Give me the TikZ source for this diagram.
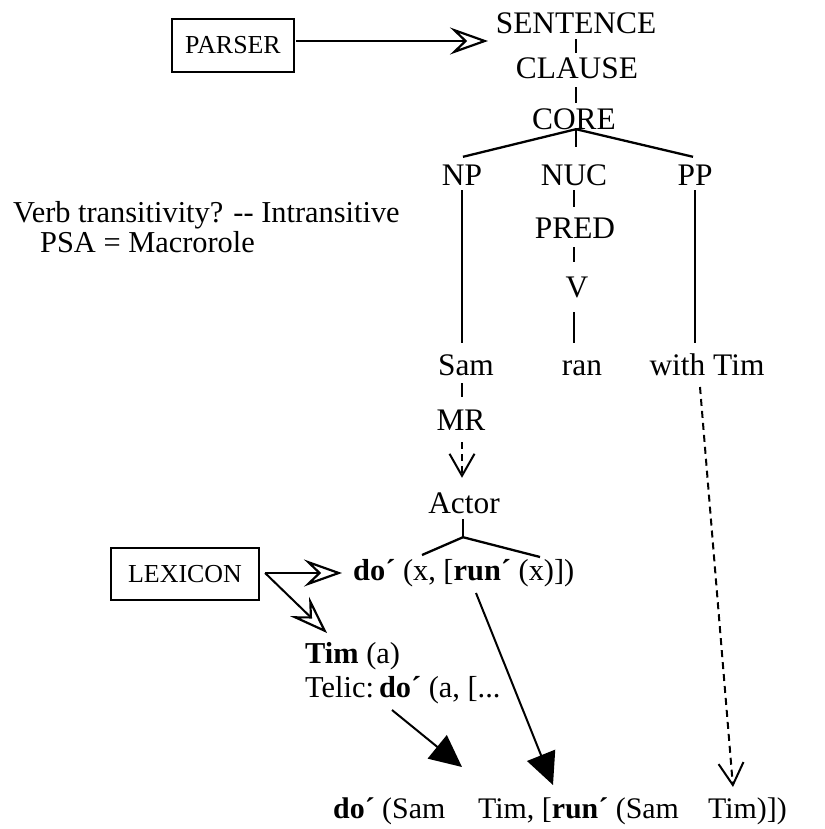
\documentclass[tikz,border=0pt]{standalone}
\usepackage{fontspec}
\setmainfont{Liberation Serif}
\usetikzlibrary{arrows.meta,calc}
\begin{document}
\begin{tikzpicture}[x=1bp,y=-1bp,
  lbl/.style={font=\fontsize{31.5}{35}\selectfont, inner sep=0pt, text height=20bp, text depth=0bp, anchor=base},
  txt/.style={font=\fontsize{30.5}{34}\selectfont, inner sep=0pt, anchor=base west},
  bottomtxt/.style={font=\fontsize{30}{34}\selectfont, inner sep=0pt, anchor=base west},
  boxed/.style={draw, line width=2.2bp, inner sep=0pt, font=\fontsize{26}{29}\selectfont},
  branch/.style={line width=2.3bp},
  bigopen/.style={line width=2bp, -{Stealth[open, length=38bp, width=27bp, inset=14bp, line width=2.2bp]}},
  dashv/.style={line width=2bp, dash pattern=on 7bp off 5bp, -{Straight Barb[length=22bp, width=25bp, line width=2bp]}},
  solidtri/.style={line width=2bp, -{Triangle[length=32bp, width=30bp]}},
]
\useasboundingbox (0,0) rectangle (825,829);

% tree labels
\node[lbl] (sent)   at (576,33)  {SENTENCE};
\node[lbl] (clause) at (577,78)  {CLAUSE};
\node[lbl] (core)   at (574,129) {CORE};
\node[lbl] (np)     at (462,185) {NP};
\node[lbl] (nuc)    at (574,185) {NUC};
\node[lbl] (pp)     at (695,185) {PP};
\node[lbl] (pred)   at (575,238) {PRED};
\node[lbl] (v)      at (577,297) {V};
\node[lbl] (sam)    at (466,375) {Sam};
\node[lbl] (ran)    at (582,375) {ran};
\node[lbl] (wtim)   at (707,375) {with Tim};
\node[lbl] (mr)     at (461,430) {MR};
\node[lbl] (actor)  at (464,513) {Actor};

% free text
\node[txt] (verb)  at (13,222)  {Verb transitivity? -\kern0pt- Intransitive};
\node[txt] (psa)   at (40,252)  {PSA = Macrorole};
\node[txt] (dox)   at (353,580) {\textbf{do´} (x, [\textbf{run´} (x)])};
\node[txt] (tim)   at (305,663) {\textbf{Tim} (a)};
\node[txt] (telic) at (305,697) {Telic:\,\textbf{do´} (a, [...};
\node[bottomtxt] (b1) at (333,818) {\textbf{do´} (Sam};
\node[bottomtxt] (b2) at (478,818) {Tim, [\textbf{run´} (Sam};
\node[bottomtxt] (b3) at (708,818) {Tim)])};

% boxes
\node[boxed, minimum width=122bp, minimum height=53bp] (parser)  at (233,45.5) {PARSER};
\node[boxed, minimum width=148bp, minimum height=52bp] (lexicon) at (185,574)  {LEXICON};

% tree connectors
\draw[branch, shorten <=6bp, shorten >=5bp] (sent.south) -- (sent.south |- clause.north);
\draw[branch, shorten <=9bp, shorten >=6bp] (sent.south |- clause.south) -- (sent.south |- core.north);
\draw[branch, shorten >=18bp] (sent.south |- core.south) -- (sent.south |- nuc.north);
\draw[branch] (sent.south |- core.south) -- ($(np.north)+(1,-8)$);
\draw[branch] (sent.south |- core.south) -- ($(pp.north)+(-2,-8)$);
\draw[branch, shorten <=5bp, shorten >=12bp] (np.south) -- (np.south |- sam.north);
\draw[branch, shorten <=5bp, shorten >=11bp] (nuc.south) -- (nuc.south |- pred.north);
\draw[branch, shorten <=9bp, shorten >=15bp] (nuc.south |- pred.south) -- (nuc.south |- v.north);
\draw[branch, shorten <=15bp, shorten >=12bp] (nuc.south |- v.south) -- (nuc.south |- ran.north);
\draw[branch, shorten <=5bp, shorten >=12bp] (pp.south) -- (pp.south |- wtim.north);
\draw[branch, shorten <=8bp, shorten >=13bp] (np.south |- sam.south) -- (np.south |- mr.north);
\draw[dashv, shorten <=12bp, shorten >=15bp] (np.south |- mr.south) -- (np.south |- actor.north);

% Actor fork
\coordinate (fork) at ($(actor.south)+(-1,24)$);
\coordinate (forkl) at (422,555);
\coordinate (forkr) at (540,557);
\draw[branch, shorten <=6bp] (actor.south -| fork) -- (fork);
\draw[branch] (fork) -- (forkl);
\draw[branch] (fork) -- (forkr);

% arrows
\coordinate (ptip) at (488,41);
\draw[bigopen] ($(parser.east)+(1,-4.5)$) -- (ptip);
\coordinate (lstart) at ($(lexicon.east)+(5,-1)$);
\coordinate (ltipa) at (342,573);
\coordinate (ltipb) at (327,633);
\draw[bigopen] (lstart) -- (ltipa);
\draw[bigopen] (lstart) -- (ltipb);

\coordinate (telicfoot) at (392,710);
\coordinate (tipa) at (462,767);
\draw[solidtri] (telicfoot) -- (tipa);
\coordinate (runfoot) at (476,593);
\coordinate (tipb) at (553,785);
\draw[solidtri] (runfoot) -- (tipb);
\coordinate (wtimfoot) at (700,387);
\coordinate (tipc) at (733,787);
\draw[dashv] (wtimfoot) -- (tipc);
\end{tikzpicture}
\end{document}
